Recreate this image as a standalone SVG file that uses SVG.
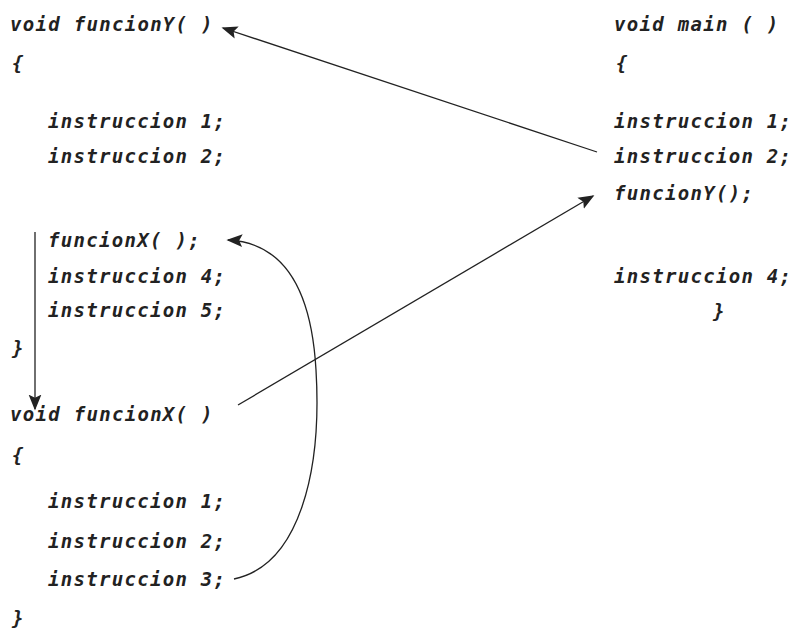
<svg xmlns="http://www.w3.org/2000/svg" width="795" height="629" viewBox="0 0 795 629">
<defs>
<style>
text{font-family:"DejaVu Sans Mono","Liberation Mono",monospace;font-weight:bold;font-style:italic;font-size:19px;fill:#222;letter-spacing:1.3px}
.c{fill:none;stroke:#222;stroke-width:1.3}
</style>
<marker id="ah" viewBox="0 0 10 10" refX="9" refY="5" markerWidth="16" markerHeight="16" markerUnits="userSpaceOnUse" orient="auto"><path d="M0,1 L10,5 L0,9 L2,5 Z" fill="#222"/></marker>
</defs>
<rect width="795" height="629" fill="#fff"/>
<g id="funcionY">
<text x="10" y="31">void funcionY( )</text>
<text x="12" y="70">{</text>
<text x="48" y="128">instruccion 1;</text>
<text x="48" y="163">instruccion 2;</text>
<text x="48" y="247">funcionX( );</text>
<text x="48" y="283">instruccion 4;</text>
<text x="48" y="317">instruccion 5;</text>
<text x="12" y="355">}</text>
</g>
<g id="funcionX">
<text x="10" y="421">void funcionX( )</text>
<text x="12" y="462">{</text>
<text x="48" y="508">instruccion 1;</text>
<text x="48" y="548">instruccion 2;</text>
<text x="48" y="586">instruccion 3;</text>
<text x="12" y="625">}</text>
</g>
<g id="main">
<text x="614" y="31">void main ( )</text>
<text x="616" y="70">{</text>
<text x="614" y="128">instruccion 1;</text>
<text x="614" y="163">instruccion 2;</text>
<text x="614" y="200">funcionY();</text>
<text x="614" y="283">instruccion 4;</text>
<text x="713" y="318">}</text>
</g>
<g id="connectors">
<line class="c" x1="597" y1="152" x2="223" y2="28" marker-end="url(#ah)"/>
<line class="c" x1="238" y1="405" x2="593" y2="196" marker-end="url(#ah)"/>
<line class="c" x1="35" y1="232" x2="35" y2="409" marker-end="url(#ah)"/>
<path class="c" d="M234 579 C300 565 322 470 316 370 C312 300 290 243 228 240" marker-end="url(#ah)"/>
</g>
</svg>
